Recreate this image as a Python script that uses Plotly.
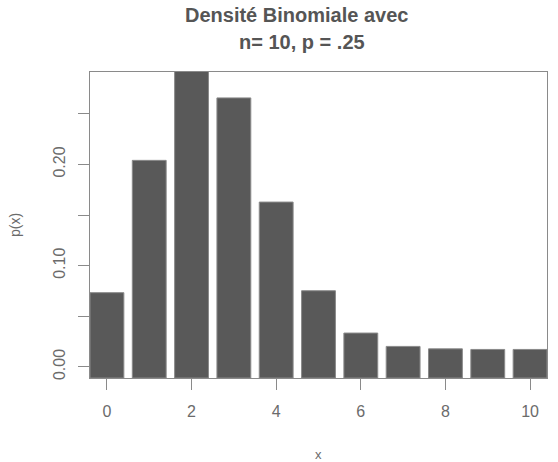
import plotly.graph_objects as go

# data
x_vals = [0, 1, 2, 3, 4, 5, 6, 7, 8, 9, 10]
p_x = [0.0733, 0.204, 0.300, 0.2657, 0.1628, 0.0752, 0.0334, 0.0202, 0.0178, 0.0172, 0.0172]
y_tickvals = [0.0, 0.05, 0.10, 0.15, 0.20, 0.25]
y_ticktext = ["0.00", "", "0.10", "", "0.20", ""]
x_tickvals = [0, 2, 4, 6, 8, 10]
title_line1 = "Densité Binomiale avec"
title_line2 = "n= 10, p = .25"

FONT = "Liberation Sans, Arial, Helvetica, sans-serif"
base = -0.011

fig = go.Figure(go.Bar(
    x=x_vals,
    y=[v - base for v in p_x],
    base=base,
    width=0.8,
    marker=dict(color="#595959", line=dict(color="#8a8a8a", width=1)),
))

fig.update_layout(
    width=558, height=462,
    margin=dict(l=90, r=11, t=72, b=84),
    paper_bgcolor="white", plot_bgcolor="white",
    showlegend=False,
    font=dict(family=FONT, color="#6b6b6b"),
    xaxis=dict(
        range=[-0.4, 10.4], tickvals=x_tickvals,
        showgrid=False, zeroline=False,
        showline=True, mirror=True, linecolor="#8a8a8a", linewidth=1,
        ticks="outside", ticklen=11, tickcolor="#8a8a8a", tickwidth=1,
        tickfont=dict(size=16, color="#6b6b6b"), ticklabelstandoff=8,
    ),
    yaxis=dict(
        range=[base, 0.2913], tickvals=y_tickvals, ticktext=y_ticktext,
        showgrid=False, zeroline=False,
        showline=True, mirror=True, linecolor="#8a8a8a", linewidth=1,
        ticks="outside", ticklen=11, tickcolor="#8a8a8a", tickwidth=1,
        tickangle=-90, tickfont=dict(size=16, color="#6b6b6b"), ticklabelstandoff=7,
    ),
    annotations=[
        dict(text="<b>" + title_line1 + "</b>", xref="paper", yref="paper",
             x=(296 - 90) / 456.7, y=1, yshift=57.5, xanchor="center", yanchor="middle",
             showarrow=False, font=dict(size=20, color="#555555")),
        dict(text="<b>" + title_line2 + "</b>", xref="paper", yref="paper",
             x=(302 - 90) / 456.7, y=1, yshift=30.5, xanchor="center", yanchor="middle",
             showarrow=False, font=dict(size=20, color="#555555")),
        dict(text="x", xref="paper", yref="paper", x=0.5, y=0, yshift=-76,
             xanchor="center", yanchor="middle", showarrow=False,
             font=dict(size=13, color="#6b6b6b")),
        dict(text="p(x)", xref="paper", yref="paper", x=0, y=0.5, xshift=-75,
             xanchor="center", yanchor="middle", textangle=-90, showarrow=False,
             font=dict(size=14, color="#6b6b6b")),
    ],
)

fig.write_html("out.html")
